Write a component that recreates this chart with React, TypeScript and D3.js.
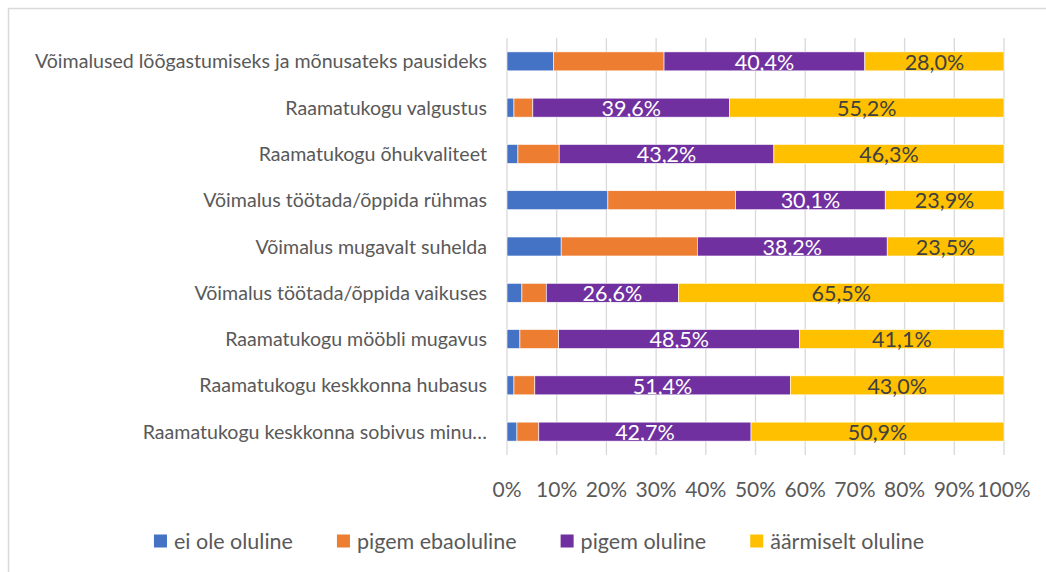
import React, { useEffect, useRef } from "react";
import * as d3 from "d3";

const categories = [
  "Võimalused lõõgastumiseks ja mõnusateks pausideks",
  "Raamatukogu valgustus",
  "Raamatukogu õhukvaliteet",
  "Võimalus töötada/õppida rühmas",
  "Võimalus mugavalt suhelda",
  "Võimalus töötada/õppida vaikuses",
  "Raamatukogu mööbli mugavus",
  "Raamatukogu keskkonna hubasus",
  "Raamatukogu keskkonna sobivus minu…",
];
const eiOleOluline = [9.4, 1.4, 2.2, 20.3, 10.9, 3.0, 2.6, 1.4, 2.0];
const pigemEbaoluline = [22.2, 3.8, 8.3, 25.7, 27.4, 4.9, 7.8, 4.2, 4.4];
const pigemOluline = [40.4, 39.6, 43.2, 30.1, 38.2, 26.6, 48.5, 51.4, 42.7];
const aarmiseltOluline = [28.0, 55.2, 46.3, 23.9, 23.5, 65.5, 41.1, 43.0, 50.9];
const seriesNames = ["ei ole oluline", "pigem ebaoluline", "pigem oluline", "äärmiselt oluline"];
const seriesColors = ["#4472C4", "#ED7D31", "#7030A0", "#FFC000"];
const labelled = [false, false, true, true];
const labelColors = ["#FFFFFF", "#FFFFFF", "#FFFFFF", "#404040"];
const ticks = [0, 10, 20, 30, 40, 50, 60, 70, 80, 90, 100];

const W = 1046;
const H = 572;
const FONT = "Lato, 'Open Sans', sans-serif";

export default function App() {
  const ref = useRef<SVGSVGElement>(null);
  useEffect(() => {
    const svg = d3.select(ref.current);
    svg.selectAll("*").remove();
    const allSeries = [eiOleOluline, pigemEbaoluline, pigemOluline, aarmiseltOluline];

    // frame
    svg.append("rect").attr("x", 8.5).attr("y", 8.5).attr("width", W + 20).attr("height", H + 20)
      .attr("fill", "#fff").attr("stroke", "#D9D9D9").attr("stroke-width", 1.5);

    const x = d3.scaleLinear().domain([0, 100]).range([507, 1004]);
    const y = d3.scaleBand<string>().domain(categories).range([38, 455]).paddingInner(0.59).paddingOuter(0.3);

    // gridlines
    svg.append("g").selectAll("line").data(ticks).join("line")
      .attr("x1", (d) => x(d)).attr("x2", (d) => x(d))
      .attr("y1", 38).attr("y2", 455)
      .attr("stroke", "#D9D9D9").attr("stroke-width", 1.3);

    // stacked bars
    const rows = categories.map((c, i) => {
      const o: any = { cat: c };
      seriesNames.forEach((s, k) => (o[s] = allSeries[k][i]));
      return o;
    });
    const stack = d3.stack<any>().keys(seriesNames)(rows);
    stack.forEach((layer, k) => {
      const g = svg.append("g");
      g.selectAll("rect").data(layer).join("rect")
        .attr("x", (d) => x(d[0]))
        .attr("width", (d) => x(d[1]) - x(d[0]))
        .attr("y", (d) => y(d.data.cat)!)
        .attr("height", y.bandwidth())
        .attr("fill", seriesColors[k])
        .attr("stroke", "#fff").attr("stroke-width", 0.6);
      if (labelled[k]) {
        g.selectAll("text").data(layer).join("text")
          .attr("x", (d) => (x(d[0]) + x(d[1])) / 2)
          .attr("y", (d) => y(d.data.cat)! + y.bandwidth() / 2)
          .attr("dy", "0.38em")
          .attr("text-anchor", "middle")
          .attr("font-family", FONT).attr("font-size", 21.5)
          .attr("fill", labelColors[k])
          .text((d) => (d[1] - d[0]).toFixed(1).replace(".", ",") + "%");
      }
    });

    // category labels
    svg.append("g").selectAll("text").data(categories).join("text")
      .attr("x", 487).attr("y", (d) => y(d)! + y.bandwidth() / 2)
      .attr("dy", "0.36em").attr("text-anchor", "end")
      .attr("font-family", FONT).attr("font-size", 19.6).attr("fill", "#595959")
      .text((d) => d);

    // ticks
    svg.append("g").selectAll("text").data(ticks).join("text")
      .attr("x", (d) => x(d)).attr("y", 497)
      .attr("text-anchor", "middle")
      .attr("font-family", FONT).attr("font-size", 21).attr("fill", "#595959")
      .text((d) => d + "%");

    // legend
    const lg = svg.append("g");
    const items = seriesNames.map((n, k) => {
      const gi = lg.append("g");
      gi.append("rect").attr("x", 0).attr("y", -6.5).attr("width", 13).attr("height", 13).attr("fill", seriesColors[k]);
      const t = gi.append("text").attr("x", 20).attr("dy", "0.36em")
        .attr("font-family", FONT).attr("font-size", 21.5).attr("fill", "#595959").text(n);
      const w = 20 + (t.node() as SVGTextElement).getComputedTextLength();
      return { gi, w };
    });
    const gap = 44;
    const total = d3.sum(items, (d) => d.w) + gap * (items.length - 1);
    let cx = (154 + 924) / 2 - total / 2;
    items.forEach((it) => {
      it.gi.attr("transform", `translate(${cx},541)`);
      cx += it.w + gap;
    });
  }, []);
  return (
    <svg ref={ref} width={W} height={H} style={{ position: "absolute", left: 0, top: 0 }} />
  );
}
